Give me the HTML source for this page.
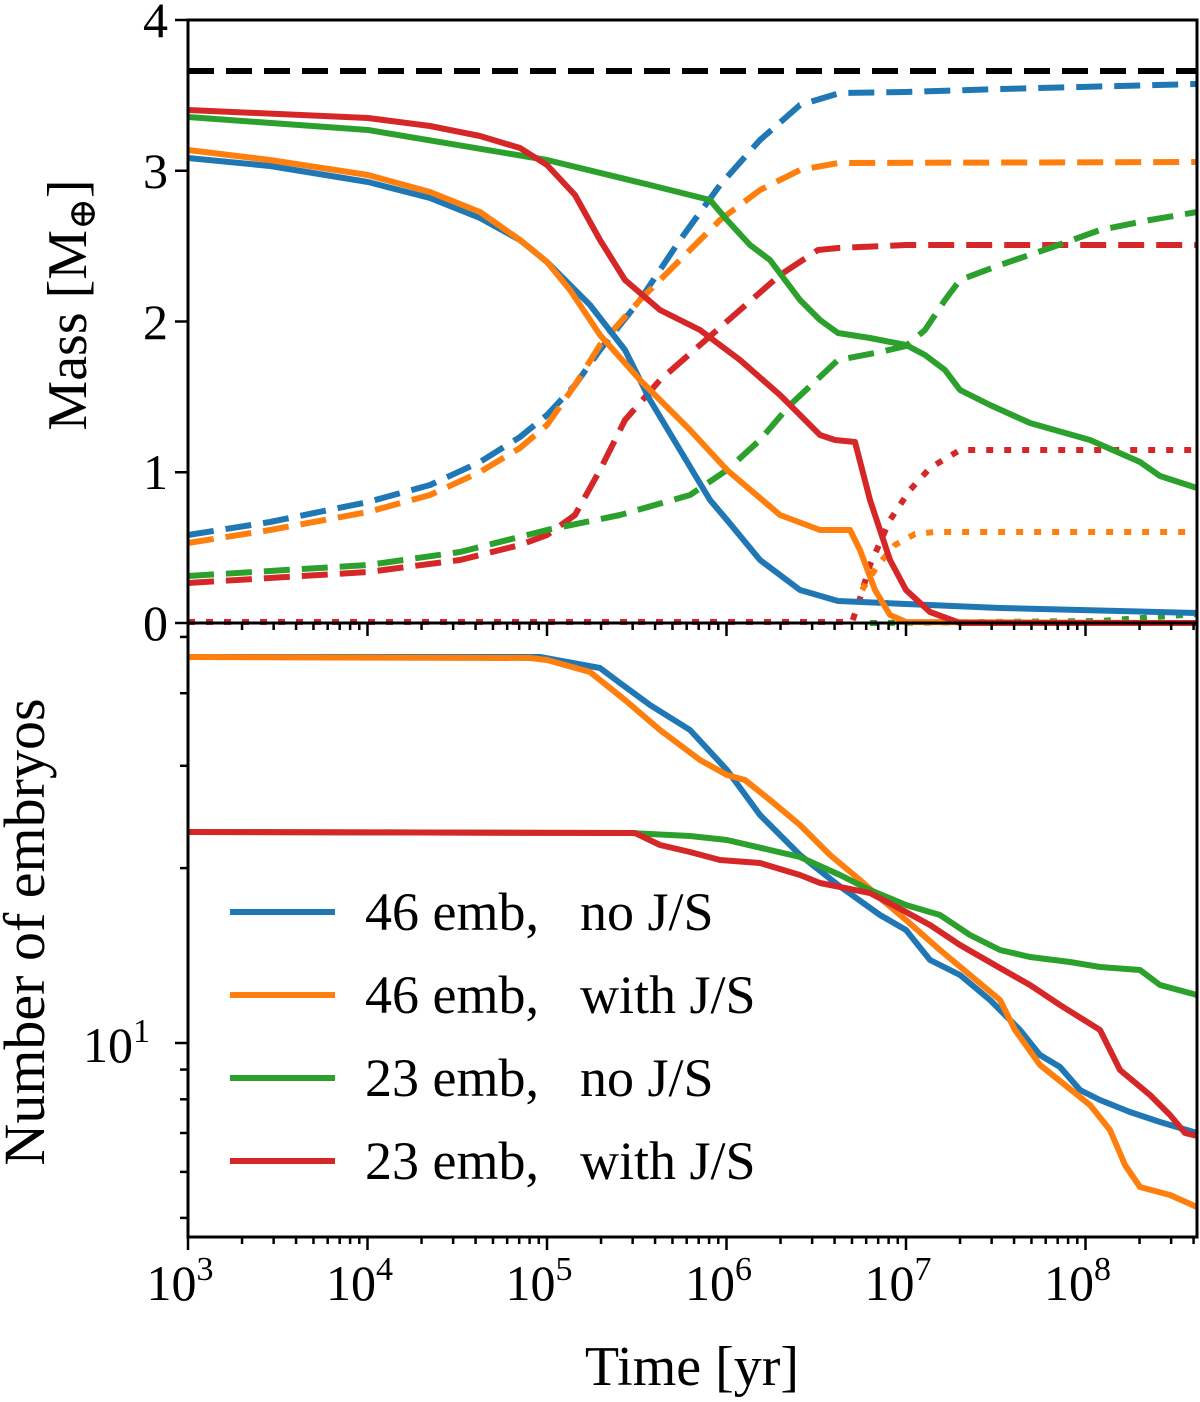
<!DOCTYPE html>
<html><head><meta charset="utf-8"><style>
html,body{margin:0;padding:0;background:#fff}
svg{display:block}
text{font-family:"Liberation Serif","DejaVu Serif",serif;fill:#000}
</style></head><body>
<svg id="s" width="1200" height="1402" viewBox="0 0 1200 1402" xmlns="http://www.w3.org/2000/svg">
<g fill="none" stroke-width="6" stroke-linejoin="round">
<line x1="188" y1="71" x2="1197" y2="71" stroke="#000" stroke-dasharray="26,12"/>
<polyline stroke="#1f77b4" stroke-dasharray="26,12" points="188,535 270,522 368,502 430,485 480,462 520,437 547,415 575,385 600,350 640,300 680,240 720,185 760,140 800,105 840,93 906,92 1000,89 1197,84"/>
<polyline stroke="#ff7f0e" stroke-dasharray="26,12" points="188,543 270,530 368,512 430,495 480,472 520,448 547,425 575,385 600,345 640,300 680,260 720,220 760,190 800,170 838,163 1197,162"/>
<polyline stroke="#d62728" stroke-dasharray="26,12" points="188,583 368,572 460,560 520,545 547,535 575,515 600,470 625,420 660,380 700,345 740,310 780,275 818,250 838,248 906,245 1197,245"/>
<polyline stroke="#2ca02c" stroke-dasharray="26,12" points="188,576 368,565 460,552 547,530 620,515 690,495 727,470 760,440 790,405 838,360 880,352 906,346 925,330 945,300 960,280 1000,265 1050,248 1100,230 1150,220 1197,212"/>
<polyline stroke="#2ca02c" stroke-dasharray="7,11" points="870,623 1100,621 1197,614"/>
<polyline stroke="#d62728" stroke-dasharray="7,11" points="188,622 852,622 858,605 870,565 890,520 910,490 930,468 960,450 1197,450"/>
<polyline stroke="#ff7f0e" stroke-dasharray="7,11" points="862,590 878,565 895,545 915,534 935,532 1197,532"/>
<polyline stroke="#1f77b4" points="188,158 270,166 368,182 430,198 480,218 520,240 547,262 590,305 625,350 650,400 680,450 710,500 727,520 760,560 800,590 838,601 906,604 1000,608 1197,613"/>
<polyline stroke="#ff7f0e" points="188,150 270,160 368,175 430,192 480,212 520,240 547,262 570,290 600,335 640,380 690,430 727,470 780,515 820,530 850,530 860,550 875,590 890,615 906,622 1197,623"/>
<polyline stroke="#2ca02c" points="188,117 368,130 547,160 650,185 710,200 727,220 750,245 770,260 800,300 820,320 838,333 870,338 906,345 925,355 945,370 960,390 990,405 1030,423 1090,440 1140,462 1160,476 1197,488"/>
<polyline stroke="#d62728" points="188,110 368,118 430,126 480,136 520,148 547,165 575,195 600,240 625,280 660,310 700,330 740,360 780,395 820,435 835,440 855,442 870,500 890,560 906,590 930,612 960,623 1197,623"/>
<polyline stroke="#1f77b4" points="188,657 540,657 600,668 620,683 650,705 690,730 727,770 760,815 800,855 838,885 880,915 906,930 930,960 960,975 990,1000 1020,1030 1040,1055 1060,1067 1080,1090 1100,1100 1130,1112 1160,1122 1197,1133"/>
<polyline stroke="#ff7f0e" points="188,657 530,658 547,660 590,672 625,700 660,730 700,760 727,775 745,780 770,800 800,825 830,855 860,880 880,898 906,920 940,950 970,975 1000,1000 1015,1030 1040,1065 1065,1085 1090,1105 1110,1130 1125,1165 1140,1187 1170,1195 1197,1207"/>
<polyline stroke="#2ca02c" points="188,832 630,833 690,836 727,840 770,850 800,857 840,875 870,890 906,905 940,915 970,935 1000,950 1030,957 1070,962 1100,967 1140,970 1160,985 1197,995"/>
<polyline stroke="#d62728" points="188,832 635,833 660,845 690,852 720,860 760,863 800,875 820,883 870,893 906,912 930,925 960,945 1000,968 1030,985 1060,1005 1100,1030 1120,1070 1150,1095 1170,1115 1185,1133 1197,1136"/>
<line x1="230" y1="912" x2="335" y2="912" stroke="#1f77b4"/>
<line x1="230" y1="995" x2="335" y2="995" stroke="#ff7f0e"/>
<line x1="230" y1="1078" x2="335" y2="1078" stroke="#2ca02c"/>
<line x1="230" y1="1161" x2="335" y2="1161" stroke="#d62728"/>
</g>
<g fill="none" stroke="#000" stroke-width="3">
<rect x="188" y="20" width="1009" height="603"/>
<rect x="188" y="623" width="1009" height="614"/>
</g>
<g id="ticks" stroke="#000" stroke-width="2.5"></g>
<g font-size="54">
<text x="365" y="930">46 emb,</text><text x="580" y="930">no J/S</text>
<text x="365" y="1013">46 emb,</text><text x="580" y="1013">with J/S</text>
<text x="365" y="1096">23 emb,</text><text x="580" y="1096">no J/S</text>
<text x="365" y="1179">23 emb,</text><text x="580" y="1179">with J/S</text>
</g>
<g font-size="50" text-anchor="end">
<text x="168" y="640">0</text>
<text x="168" y="489">1</text>
<text x="168" y="339">2</text>
<text x="168" y="188">3</text>
<text x="168" y="37">4</text>
<text x="150" y="1062">10<tspan font-size="34" dy="-20">1</tspan></text>
</g>
<g font-size="50" text-anchor="middle" id="xl"></g>
<text x="692" y="1385" font-size="56" text-anchor="middle">Time [yr]</text>
<text transform="translate(86,305) rotate(-90)" font-size="56" text-anchor="middle">Mass [M<tspan font-size="38" dy="9">⊕</tspan><tspan dy="-9">]</tspan></text>
<text transform="translate(44,932) rotate(-90)" font-size="58" text-anchor="middle">Number of embryos</text>
</svg>
<script>
var ns="http://www.w3.org/2000/svg",g=document.getElementById("ticks"),xl=document.getElementById("xl");
function L(a,b,c,d){var l=document.createElementNS(ns,"line");l.setAttribute("x1",a);l.setAttribute("y1",b);l.setAttribute("x2",c);l.setAttribute("y2",d);g.appendChild(l);}
function X(t){return 188+179.5*(Math.log10(t)-3);}
for(var e=3;e<=8;e++){for(var m=1;m<10;m++){var x=X(m*Math.pow(10,e));if(x>1197)break;var len=m==1?13:7;
L(x,623,x,623+len);L(x,1237,x,1237+len);}
var t=document.createElementNS(ns,"text");t.setAttribute("x",X(Math.pow(10,e))-8);t.setAttribute("y",1300);t.innerHTML='10<tspan font-size="34" dy="-20">'+e+'</tspan>';xl.appendChild(t);}
for(var i=0;i<=4;i++){var y=623-i*150.75;L(175,y,188,y);}
function Y(n){return 1043-581*Math.log10(n/10);}
var mins=[5,6,7,8,9,20,30,40,50];
for(var k=0;k<mins.length;k++){var y=Y(mins[k]);if(y>623&&y<1237)L(180,y,188,y);}
L(175,1043,188,1043);
</script>
</body></html>
